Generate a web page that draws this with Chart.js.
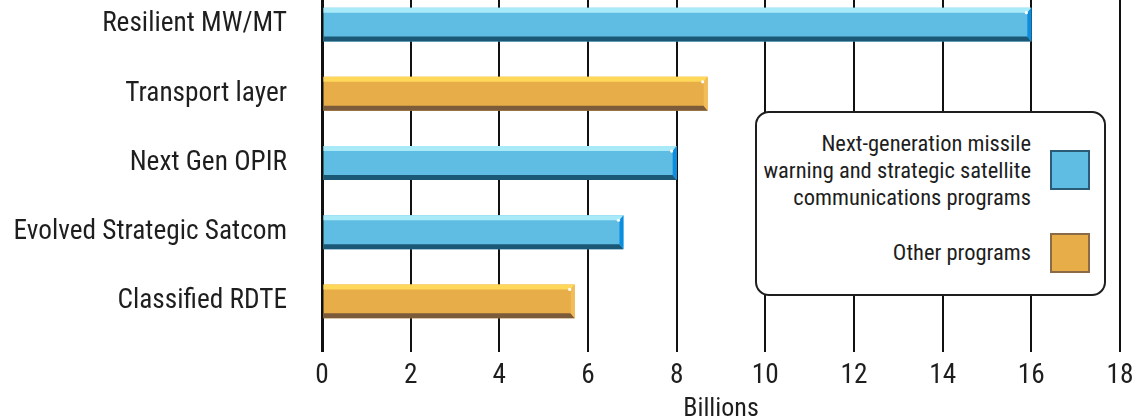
<!DOCTYPE html>
<html>
<head>
<meta charset="utf-8">
<script src="https://cdn.jsdelivr.net/npm/chart.js@4/dist/chart.umd.min.js"></script>
<style>
    html, body { margin: 0; padding: 0; background: #fff; overflow: hidden; }
    #wrap { position: absolute; left: 0; top: -10px; width: 1136px; height: 430px; }
    #legend {
        position: absolute; left: 755px; top: 111px; width: 347px; height: 181px;
        border: 2px solid #1e1e1e; border-radius: 14px; background: #fff;
        color: #1e1e1e;
    }
    #legend .txt { position: absolute; right: 73px; text-align: right; line-height: 27px; white-space: nowrap; }
    #legend .sw { position: absolute; left: 293px; width: 36px; height: 36px; border: 2px solid; }
</style>
</head>
<body>
<div id="wrap"><canvas id="chart"></canvas></div>
<div id="legend"></div>
<script>
const categories = ['Resilient MW/MT', 'Transport layer', 'Next Gen OPIR', 'Evolved Strategic Satcom', 'Classified RDTE'];
const nextGenValues = [16, null, 8.0, 6.8, null];
const otherValues = [null, 8.7, null, null, 5.7];
const seriesLabels = [
    ['Next-generation missile', 'warning and strategic satellite', 'communications programs'],
    ['Other programs']
];
const xMin = 0, xMax = 18, xStep = 2;
const axisTitle = 'Billions';

const family = '"Roboto Condensed", "Liberation Sans", Arial, sans-serif';
const bigSize = 27.3;
const smallSize = 22.5;

const palettes = [
    {fill: '#5FBDE3', top: '#A8EAF8', bottom: '#1B5876', side: '#0B8EE0', border: '#2A5C78'},
    {fill: '#E6AD48', top: '#FFD85A', bottom: '#7C5B3B', side: '#F2BC58', border: '#8A6A47'}
];

// light top edge, dark bottom edge and bevelled end on each bar
const bevelPlugin = {
    id: 'bevel',
    afterDatasetsDraw(chart) {
        let ctx = chart.ctx;
        chart.data.datasets.forEach((ds, i) => {
            let pal = palettes[i];
            chart.getDatasetMeta(i).data.forEach((bar, j) => {
                if (ds.data[j] === null) return;
                let p = bar.getProps(['x', 'y', 'base', 'height'], true);
                let top = p.y - p.height / 2, bottom = p.y + p.height / 2;
                ctx.save();
                ctx.fillStyle = pal.top;
                ctx.beginPath();
                ctx.moveTo(p.base, top); ctx.lineTo(p.x, top); ctx.lineTo(p.x - 4, top + 5); ctx.lineTo(p.base, top + 5);
                ctx.fill();
                ctx.fillStyle = pal.bottom;
                ctx.beginPath();
                ctx.moveTo(p.base, bottom); ctx.lineTo(p.x, bottom); ctx.lineTo(p.x - 4, bottom - 5); ctx.lineTo(p.base, bottom - 5);
                ctx.fill();
                ctx.fillStyle = pal.side;
                ctx.beginPath();
                ctx.moveTo(p.x - 4, top + 5); ctx.lineTo(p.x, top); ctx.lineTo(p.x, bottom); ctx.lineTo(p.x - 4, bottom - 5);
                ctx.fill();
                ctx.fillStyle = '#ffffff';
                ctx.beginPath();
                ctx.arc(p.x - 5, top + 5, 1.6, 0, Math.PI * 2);
                ctx.fill();
                ctx.restore();
            });
        });
    }
};

const tickFont = {family: family, size: bigSize};

const chart = new Chart(document.getElementById('chart'), {
    type: 'bar',
    data: {
        labels: categories,
        datasets: [
            {label: seriesLabels[0].join(' '), data: nextGenValues, backgroundColor: palettes[0].fill},
            {label: seriesLabels[1].join(' '), data: otherValues, backgroundColor: palettes[1].fill}
        ]
    },
    options: {
        indexAxis: 'y',
        responsive: true,
        maintainAspectRatio: false,
        animation: false,
        grouped: false,
        skipNull: true,
        barPercentage: 0.49,
        categoryPercentage: 1,
        layout: {padding: {left: 0, right: 16, top: 0, bottom: 0}},
        plugins: {legend: {display: false}, tooltip: {enabled: false}},
        scales: {
            x: {
                min: xMin,
                max: xMax,
                border: {display: false},
                grid: {
                    color: '#111',
                    lineWidth: (c) => c.index === 0 ? 3 : 2,
                    drawTicks: true,
                    tickLength: 16,
                    tickColor: '#111'
                },
                ticks: {stepSize: xStep, color: '#1e1e1e', font: tickFont, padding: 8, maxRotation: 0},
                title: {display: true, text: axisTitle, color: '#1e1e1e', font: {family: family, size: 26, lineHeight: 1}, padding: {top: 0, bottom: -2}},
                afterFit(scale) { scale.height = 84; scale.paddingLeft = 0; scale.paddingRight = 0; }
            },
            y: {
                border: {display: false},
                grid: {display: false, drawTicks: false},
                ticks: {color: '#1e1e1e', font: tickFont, padding: 35},
                afterFit(scale) { scale.width = 322; scale.paddingTop = 0; scale.paddingBottom = 0; }
            }
        }
    },
    plugins: [bevelPlugin]
});

// html legend built from the datasets
const legend = document.getElementById('legend');
const legendTops = [16.5, 125.5];
const swatchTops = [37, 120];
chart.data.datasets.forEach((ds, i) => {
    let t = document.createElement('div');
    t.className = 'txt';
    t.style.top = legendTops[i] + 'px';
    t.style.font = `${smallSize}px ${family}`;
    t.style.lineHeight = '27px';
    t.innerHTML = seriesLabels[i].join('<br>');
    legend.appendChild(t);
    let s = document.createElement('div');
    s.className = 'sw';
    s.style.top = swatchTops[i] + 'px';
    s.style.background = palettes[i].fill;
    s.style.borderColor = palettes[i].border;
    legend.appendChild(s);
});
</script>
</body>
</html>
